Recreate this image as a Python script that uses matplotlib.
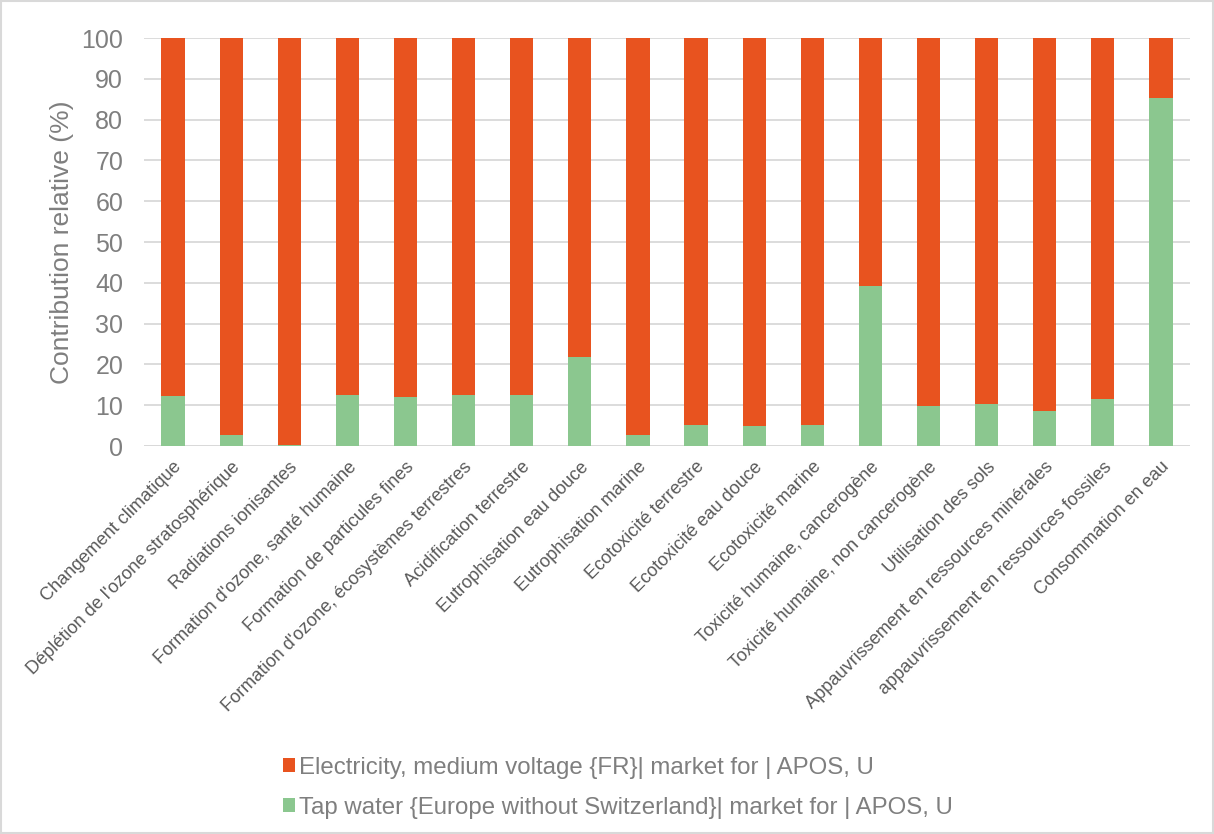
import numpy as np
import matplotlib.pyplot as plt
from matplotlib.patches import Rectangle

categories = [
    "Changement climatique",
    "Déplétion de l'ozone stratosphérique",
    "Radiations ionisantes",
    "Formation d'ozone, santé humaine",
    "Formation de particules fines",
    "Formation d'ozone, écosystèmes terrestres",
    "Acidification terrestre",
    "Eutrophisation eau douce",
    "Eutrophisation marine",
    "Ecotoxicité terrestre",
    "Ecotoxicité eau douce",
    "Ecotoxicité marine",
    "Toxicité humaine, cancerogène",
    "Toxicité humaine, non cancerogène",
    "Utilisation des sols",
    "Appauvrissement en ressources minérales",
    "appauvrissement en ressources fossiles",
    "Consommation en eau",
]
tap_water = [12.2, 2.6, 0.3, 12.6, 12.0, 12.6, 12.4, 21.8, 2.8, 5.2, 4.8, 5.2,
             39.3, 9.7, 10.4, 8.5, 11.4, 85.2]
electricity = [100 - v for v in tap_water]

label_elec = "Electricity, medium voltage {FR}| market for | APOS, U"
label_tap = "Tap water {Europe without Switzerland}| market for | APOS, U"

red = '#E8531F'
green = '#8BC78F'
grey_txt = '#7F7F7F'
grid_c = '#D9D9D9'

plt.rcParams['font.family'] = ['Liberation Sans', 'DejaVu Sans']

fig = plt.figure(figsize=(12.14, 8.34), dpi=100)
ax = fig.add_axes([144 / 1214, 1 - 446 / 834, (1190 - 144) / 1214, (446 - 38) / 834])

x = np.arange(len(categories))
b_tap = ax.bar(x, tap_water, width=0.4, color=green, zorder=3)
b_el = ax.bar(x, electricity, width=0.4, bottom=tap_water, color=red, zorder=3)

ax.set_xlim(-0.5, len(categories) - 0.5)
ax.set_ylim(0, 100)
ax.set_yticks(range(0, 101, 10))
ax.yaxis.grid(True, color=grid_c, linewidth=1.3, zorder=0)
ax.axhline(0, color=grid_c, linewidth=2, zorder=2)
for s in ax.spines.values():
    s.set_visible(False)
ax.tick_params(axis='both', length=0, colors=grey_txt, labelsize=18)
ax.tick_params(axis='y', pad=15)
ax.set_xticks(x)
ax.set_xticklabels(categories, rotation=45, ha='right', rotation_mode='anchor',
                   fontsize=13.1, color='#595959')
ax.tick_params(axis='x', pad=9)
ax.set_ylabel('Contribution relative (%)', fontsize=19, color=grey_txt, labelpad=5)

fig.legend([b_el, b_tap], [label_elec, label_tap], loc='upper left',
           bbox_to_anchor=(261 / 1214, 1 - 735 / 834), frameon=False,
           fontsize=17.3, labelcolor=grey_txt, handlelength=0.5, handleheight=0.5,
           handletextpad=0.2, labelspacing=0.75)

fig.patches.append(Rectangle((0.001, 0.001), 0.998, 0.998, transform=fig.transFigure,
                             fill=False, edgecolor=grid_c, linewidth=1.5))

fig.savefig('out.png', dpi=100)
